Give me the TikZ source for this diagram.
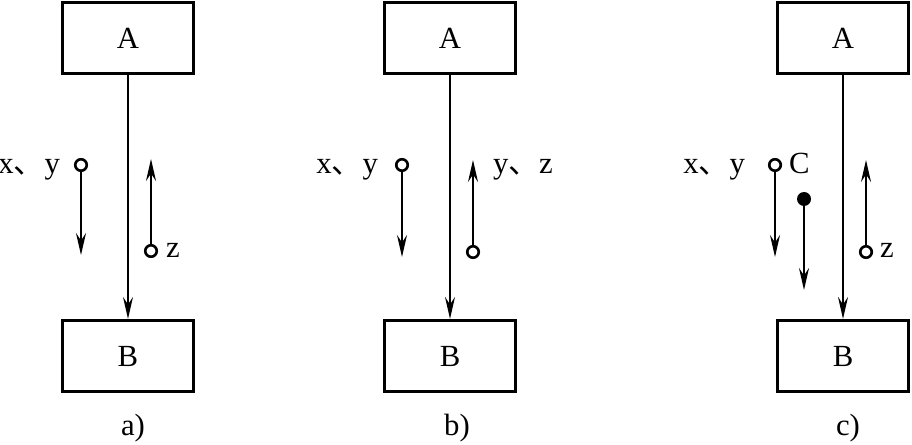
\documentclass[tikz,border=0pt]{standalone}
\usepackage{fontspec}
\setmainfont{Liberation Serif}
\newfontfamily\cjk{Noto Sans CJK SC}
\usepackage{tikz}
\usetikzlibrary{arrows.meta, positioning}
\tikzset{
  block/.style={rectangle, draw, line width=1.8pt, minimum width=2.62cm, minimum height=1.42cm, font=\fontsize{17.5}{20}\selectfont},
  term/.style={circle, draw, line width=1.5pt, fill=white, minimum size=0.23cm, inner sep=0pt},
  dotterm/.style={circle, fill=black, minimum size=0.28cm, inner sep=0pt},
  sigarrow/.style={-{Stealth[length=4.4mm, width=2mm, inset=1.5mm]}, line width=1pt},
  lbl/.style={font=\fontsize{17.5}{20}\selectfont, inner sep=1pt}
}
\newcommand{\dun}{{\cjk 、}}
\begin{document}
\begin{tikzpicture}[x=0.02cm, y=-0.02cm]
    \useasboundingbox (0,0) rectangle (912,445);

    % blocks A and B with the main line
    \foreach \cx/\tag/\capx in {128/a/133, 450/b/457, 843/c/848} {
        \node[block] (A\tag) at (\cx,38) {A};
        \node[block] (B\tag) at (\cx,356) {B};
        \draw[sigarrow] (A\tag.south) -- (B\tag.north);
        \node[lbl, anchor=base] (cap\tag) at (\capx,436) {\tag)};
    }

    % a)
    \node[term] (xya) at (81,165) {};
    \node[lbl, anchor=base east] (xylbla) at (62,174) {x\dun y};
    \coordinate (xyenda) at (81,255);
    \draw[sigarrow] (xya.south) -- (xyenda);
    \node[term] (za) at (151,251) {};
    \node[lbl, anchor=base west] (zlbla) at (164,258) {z};
    \coordinate (zenda) at (151,159);
    \draw[sigarrow] (za.north) -- (zenda);

    % b)
    \node[term] (xyb) at (402,165) {};
    \node[lbl, anchor=base east] (xylblb) at (380,174) {x\dun y};
    \coordinate (xyendb) at (402,257);
    \draw[sigarrow] (xyb.south) -- (xyendb);
    \node[term] (yzb) at (473,252) {};
    \node[lbl, anchor=base west] (yzlblb) at (491,174) {y\dun z};
    \coordinate (yzendb) at (473,160);
    \draw[sigarrow] (yzb.north) -- (yzendb);

    % c)
    \node[term] (xyc) at (775,165) {};
    \node[lbl, anchor=base east] (xylblc) at (747,174) {x\dun y};
    \node[lbl, anchor=base west] (clblc) at (787,174) {C};
    \coordinate (xyendc) at (775,257);
    \draw[sigarrow] (xyc.south) -- (xyendc);
    \node[dotterm] (cc) at (804,199) {};
    \coordinate (cendc) at (804,290);
    \draw[sigarrow, line width=1.3pt] (cc.south) -- (cendc);
    \node[term] (zc) at (866,252) {};
    \node[lbl, anchor=base west] (zlblc) at (878,258) {z};
    \coordinate (zendc) at (866,160);
    \draw[sigarrow] (zc.north) -- (zendc);
\end{tikzpicture}
\end{document}
